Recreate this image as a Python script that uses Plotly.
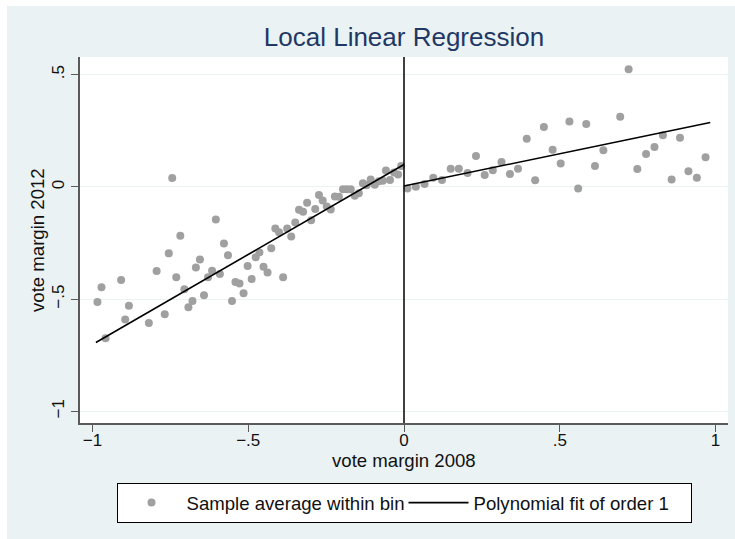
import plotly.graph_objects as go

# ---- data ----
left_x = [-0.984, -0.971, -0.958, -0.908, -0.895, -0.883, -0.819, -0.794, -0.768, -0.755,
          -0.744, -0.731, -0.718, -0.705, -0.692, -0.679, -0.668, -0.655, -0.642, -0.629,
          -0.616, -0.604, -0.591, -0.578, -0.565, -0.552, -0.541, -0.528, -0.515, -0.502,
          -0.489, -0.476, -0.464, -0.451, -0.438, -0.426, -0.413, -0.401, -0.388, -0.375,
          -0.362, -0.349, -0.337, -0.324, -0.311, -0.298, -0.285, -0.273, -0.261, -0.248,
          -0.235, -0.222, -0.209, -0.196, -0.184, -0.171, -0.158, -0.145, -0.132, -0.120,
          -0.107, -0.094, -0.081, -0.068, -0.058, -0.045, -0.032, -0.019, -0.009]
left_y = [-0.513, -0.447, -0.674, -0.415, -0.591, -0.529, -0.606, -0.375, -0.567, -0.296,
          0.040, -0.403, -0.218, -0.456, -0.536, -0.508, -0.359, -0.323, -0.483, -0.403,
          -0.373, -0.145, -0.388, -0.252, -0.304, -0.508, -0.424, -0.430, -0.474, -0.352,
          -0.410, -0.313, -0.292, -0.356, -0.381, -0.273, -0.185, -0.202, -0.403, -0.185,
          -0.221, -0.159, -0.102, -0.111, -0.071, -0.148, -0.098, -0.036, -0.061, -0.087,
          -0.101, -0.043, -0.044, -0.010, -0.010, -0.010, -0.039, -0.028, 0.016, 0.007,
          0.033, 0.010, 0.025, 0.028, 0.073, 0.031, 0.064, 0.055, 0.093]

right_x = [0.011, 0.038, 0.066, 0.094, 0.122, 0.150, 0.176, 0.204, 0.231, 0.259,
           0.285, 0.313, 0.340, 0.366, 0.394, 0.421, 0.449, 0.477, 0.503, 0.531,
           0.559, 0.585, 0.613, 0.640, 0.694, 0.721, 0.749, 0.777, 0.804, 0.831,
           0.859, 0.886, 0.913, 0.940, 0.968]
right_y = [-0.007, 0.001, 0.013, 0.041, 0.031, 0.081, 0.081, 0.062, 0.138, 0.053,
           0.074, 0.111, 0.058, 0.081, 0.215, 0.030, 0.267, 0.166, 0.104, 0.292,
           -0.007, 0.280, 0.093, 0.163, 0.313, 0.524, 0.080, 0.147, 0.178, 0.230,
           0.033, 0.219, 0.070, 0.041, 0.132]

fit_left_x = [-0.989, 0.0]
fit_left_y = [-0.693, 0.100]
fit_right_x = [0.0, 0.983]
fit_right_y = [0.004, 0.287]

cutoff = 0.0

x_tickvals = [-1, -0.5, 0, 0.5, 1]
x_ticktext = ["\u22121", "\u2212.5", "0", ".5", "1"]
y_tickvals = [-1, -0.5, 0, 0.5]
y_ticktext = ["\u22121", "\u2212.5", "0", ".5"]

title_text = "Local Linear Regression"
x_title = "vote margin 2008"
y_title = "vote margin 2012"
scatter_name = "Sample average within bin"
fit_name = "Polynomial fit of order 1"

# ---- style ----
BG = "#EAF2F3"
FONT = "Liberation Sans, Arial, sans-serif"
DOT = "#A0A0A0"
AXC = "#5a5a5a"

fig = go.Figure()
fig.add_trace(go.Scatter(x=left_x + right_x, y=left_y + right_y, mode="markers",
                         name=scatter_name,
                         marker=dict(color=DOT, size=8, line=dict(width=0))))
fig.add_trace(go.Scatter(x=fit_left_x, y=fit_left_y, mode="lines", name=fit_name,
                         line=dict(color="black", width=1.6), legendgroup="fit"))
fig.add_trace(go.Scatter(x=fit_right_x, y=fit_right_y, mode="lines", name=fit_name,
                         line=dict(color="black", width=1.6), legendgroup="fit",
                         showlegend=False))

fig.add_shape(type="line", xref="x", yref="paper", x0=cutoff, x1=cutoff, y0=0, y1=1,
              line=dict(color="black", width=1.5))

# thin white strips at top/left page edge
fig.add_shape(type="rect", xref="paper", yref="paper", x0=-0.2, x1=1.1,
              y0=(423 - 6) / 366, y1=1.2, fillcolor="white", line=dict(width=0),
              layer="below")
fig.add_shape(type="rect", xref="paper", yref="paper", x0=-0.2, x1=(7 - 80) / 647.7,
              y0=-0.4, y1=1.2, fillcolor="white", line=dict(width=0), layer="below")

fig.update_layout(
    width=735, height=539,
    margin=dict(l=80, r=7, t=57, b=116),
    paper_bgcolor=BG, plot_bgcolor="white",
    font=dict(family=FONT, size=17, color="#111111"),
    title=dict(text=title_text, x=0.5, xref="paper", y=1 - 37 / 539, yref="container",
               xanchor="center", yanchor="middle",
               font=dict(family=FONT, size=26, color="#1f3864")),
    xaxis=dict(range=[-1.04, 1.04], tickvals=x_tickvals, ticktext=x_ticktext,
               ticks="outside", ticklen=7, tickcolor=AXC, tickwidth=1,
               ticklabelstandoff=-6,
               showline=True, linecolor=AXC, linewidth=1.5, showgrid=False,
               zeroline=False, tickfont=dict(size=17)),
    yaxis=dict(range=[-1.052, 0.579], tickvals=y_tickvals, ticktext=y_ticktext,
               ticks="outside", ticklen=7, tickcolor=AXC, tickwidth=1, tickangle=-90,
               showline=True, linecolor=AXC, linewidth=1.5, showgrid=True,
               gridcolor=BG, gridwidth=1, zeroline=False, tickfont=dict(size=17)),
    legend=dict(orientation="h", x=0.5, xanchor="center", y=(423 - 483) / 366,
                yanchor="top", bgcolor="white", bordercolor="black", borderwidth=1,
                font=dict(size=18.6), entrywidth=212, itemwidth=60),
    showlegend=True,
    annotations=[
        dict(text=x_title, xref="paper", yref="paper", x=0.5, y=(423 - 461) / 366,
             xanchor="center", yanchor="middle", showarrow=False, font=dict(size=18.6)),
        dict(text=y_title, xref="paper", yref="paper", x=(37 - 80) / 647.7, y=0.5,
             xanchor="center", yanchor="middle", textangle=-90, showarrow=False,
             font=dict(size=18.6)),
    ],
)

fig.write_html("out.html")
